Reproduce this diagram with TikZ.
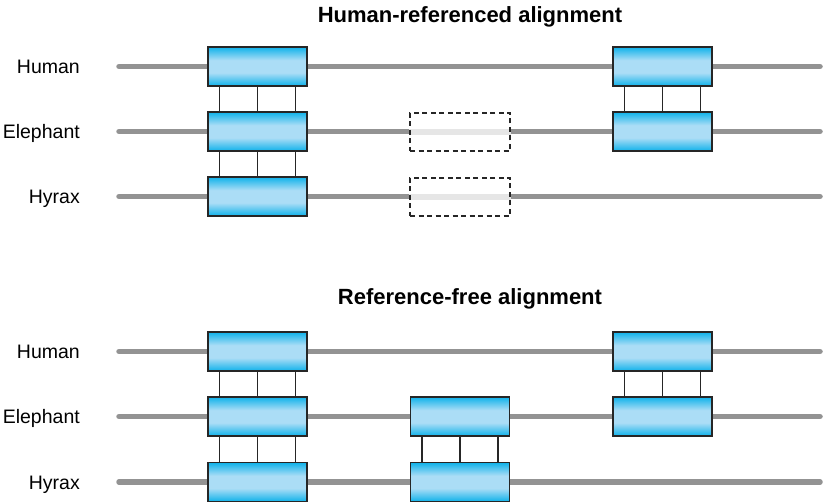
\documentclass[tikz,border=0pt]{standalone}
\usepackage{fontspec}
\setmainfont{Liberation Sans}
\usepackage{tikz}
\usetikzlibrary{calc,backgrounds}

\definecolor{blkdark}{HTML}{0FB2EA}
\definecolor{blklight}{HTML}{ABDDF6}
\definecolor{seqgray}{HTML}{939393}
\definecolor{gapgray}{HTML}{E6E6E6}
\pgfdeclareverticalshading{blkshade}{100bp}{color(0bp)=(blkdark); color(25bp)=(blkdark); color(42bp)=(blklight); color(58bp)=(blklight); color(75bp)=(blkdark); color(100bp)=(blkdark)}

\begin{document}
\begin{tikzpicture}[
    x=1pt, y=-1pt,
    blk/.style={rectangle, draw=black!85, line width=1.4pt, shade, shading=blkshade, minimum width=99pt, minimum height=39pt, inner sep=0pt},
    gapbox/.style={rectangle, draw=black!85, dash pattern=on 5pt off 3.5pt, line width=1.3pt, minimum width=100pt, minimum height=38pt, inner sep=0pt},
    seq/.style={line width=5.5pt, color=seqgray, line cap=round},
    gap/.style={line width=5.5pt, color=gapgray},
    link/.style={line width=1.6pt, color=black!85},
    species/.style={anchor=base east, inner sep=0pt, font=\fontsize{19.5}{22}\selectfont},
    heading/.style={anchor=base, inner sep=0pt, font=\fontsize{22}{26}\selectfont\bfseries}
]
    \useasboundingbox (0,0) rectangle (824,502);

    % Human-referenced alignment
    \node[heading] (title1) at (470,23) {Human-referenced alignment};
    \node[species] (human1)    at (80,74)    {Human};
    \node[species] (elephant1) at (80,138.5) {Elephant};
    \node[species] (hyrax1)    at (80,203.5) {Hyrax};

    \node[blk]    (h1a) at (257.5,66.5)  {};
    \node[blk]    (h1c) at (662.5,66.5)  {};
    \node[blk]    (e1a) at (257.5,131.5) {};
    \node[gapbox] (e1b) at (460,132)     {};
    \node[blk]    (e1c) at (662.5,131.5) {};
    \node[blk]    (y1a) at (257.5,196.5) {};
    \node[gapbox] (y1b) at (460,197)     {};

    % Reference-free alignment
    \node[heading] (title2) at (470,305) {Reference-free alignment};
    \node[species] (human2)    at (80,358.5) {Human};
    \node[species] (elephant2) at (80,423.5) {Elephant};
    \node[species] (hyrax2)    at (80,489)   {Hyrax};

    \node[blk] (h2a) at (257.5,351.5) {};
    \node[blk] (h2c) at (662.5,351.5) {};
    \node[blk] (e2a) at (257.5,416.5) {};
    \node[blk] (e2b) at (460,416.5)   {};
    \node[blk] (e2c) at (662.5,416.5) {};
    \node[blk] (y2a) at (257.5,482)   {};
    \node[blk] (y2b) at (460,482)     {};

    % sequence ends
    \coordinate (h1s) at (119,66.5);  \coordinate (h1e) at (820,66.5);
    \coordinate (e1s) at (119,131.5); \coordinate (e1e) at (820,131.5);
    \coordinate (y1s) at (119,196.5); \coordinate (y1e) at (820,196.5);
    \coordinate (h2s) at (119,351.5); \coordinate (h2e) at (820,351.5);
    \coordinate (e2s) at (119,416.5); \coordinate (e2e) at (820,416.5);
    \coordinate (y2s) at (119,482);   \coordinate (y2e) at (820,482);

    % sequences behind the blocks
    \begin{scope}[on background layer]
        \foreach \r in {h1,e1,y1,h2,e2,y2}
            \draw[seq] (\r s) -- (\r e);
        \draw[gap] (e1b.west) -- (e1b.east);
        \draw[gap] (y1b.west) -- (y1b.east);
    \end{scope}

    % aligned columns
    \foreach \u/\l in {h1a/e1a, e1a/y1a, h1c/e1c, h2a/e2a, e2a/y2a, e2b/y2b, h2c/e2c}
        \foreach \f in {0.12,0.5,0.88}
            \draw[link] ($(\u.south west)!\f!(\u.south east)$) -- ($(\l.north west)!\f!(\l.north east)$);

\end{tikzpicture}
\end{document}
